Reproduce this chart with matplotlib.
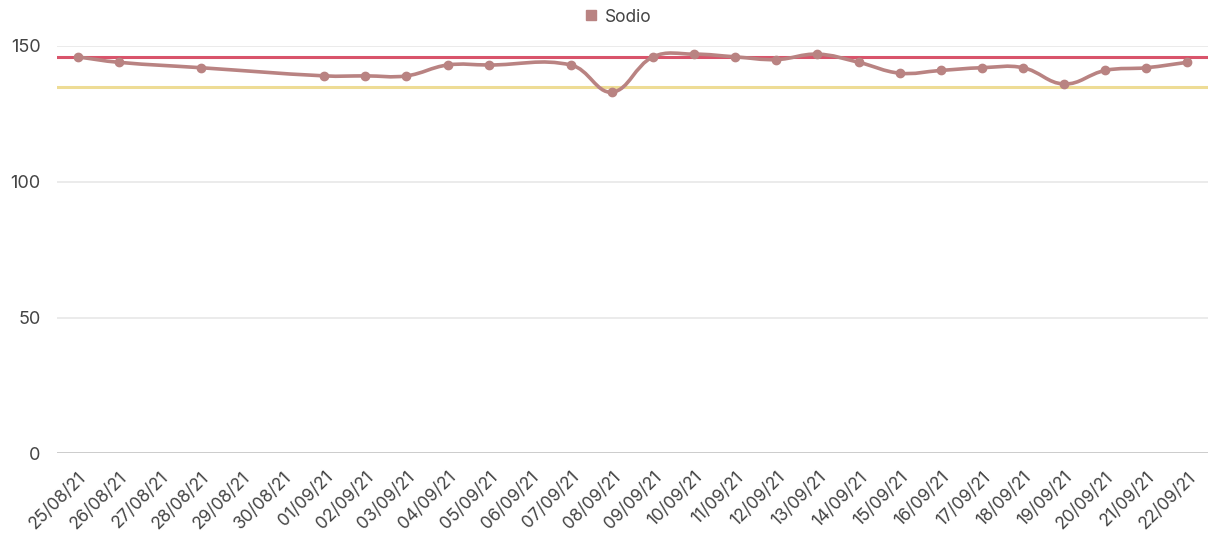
import numpy as np
import matplotlib
matplotlib.use("Agg")
import matplotlib.pyplot as plt
from matplotlib.path import Path
from matplotlib.patches import PathPatch
from matplotlib.lines import Line2D

plt.rcParams['font.family'] = ['Inter', 'DejaVu Sans']

# Dates on the category axis
dates = ["25/08/21", "26/08/21", "27/08/21", "28/08/21", "29/08/21", "30/08/21",
         "01/09/21", "02/09/21", "03/09/21", "04/09/21", "05/09/21", "06/09/21",
         "07/09/21", "08/09/21", "09/09/21", "10/09/21", "11/09/21", "12/09/21",
         "13/09/21", "14/09/21", "15/09/21", "16/09/21", "17/09/21", "18/09/21",
         "19/09/21", "20/09/21", "21/09/21", "22/09/21"]

# Sodium readings (None = no measurement that day)
sodio = [146, 144, None, 142, None, None,
         139, 139, 139, 143, 143, None,
         143, 133, 146, 147, 146, 145,
         147, 144, 140, 141, 142, 142,
         136, 141, 142, 144]

upper_limit = 146
lower_limit = 135
y_ticks = [0, 50, 100, 150]

line_color = "#b98382"
upper_color = "#d9546b"
lower_color = "#eedc95"

W, H = 1212, 541
fig = plt.figure(figsize=(W / 100, H / 100), dpi=100)
left, right, top, bottom = 57, 1208, 46, 453.3
ax = fig.add_axes([left / W, 1 - bottom / H, (right - left) / W, (bottom - top) / H])

n = len(dates)
ax.set_xlim(-0.5, n - 0.5)
ax.set_ylim(0, 150)

# Horizontal grid
for t in y_ticks:
    ax.axhline(t, color="#e8e8e8" if t else "#c4c4c4", lw=1.2, zorder=0)

# Reference limits
ax.axhline(upper_limit, color=upper_color, lw=2.2, zorder=1)
ax.axhline(lower_limit, color=lower_color, lw=2.2, zorder=1)

# Smooth curve through available points (bezier with tension 0.4, gaps spanned)
xs = np.array([i for i, v in enumerate(sodio) if v is not None], dtype=float)
ys = np.array([v for v in sodio if v is not None], dtype=float)
pix = ax.transData.transform(np.column_stack([xs, ys]))
tension = 0.4
cps = []
for i in range(len(pix)):
    cur = pix[i]
    prev = pix[i - 1] if i > 0 else cur
    nxt = pix[i + 1] if i < len(pix) - 1 else cur
    d01 = np.hypot(*(cur - prev))
    d12 = np.hypot(*(nxt - cur))
    tot = d01 + d12
    s01 = d01 / tot if tot else 0
    s12 = d12 / tot if tot else 0
    c_in = cur - tension * s01 * (nxt - prev)
    c_out = cur + tension * s12 * (nxt - prev)
    cps.append((c_in, c_out))
verts = [pix[0]]
codes = [Path.MOVETO]
for i in range(1, len(pix)):
    verts += [cps[i - 1][1], cps[i][0], pix[i]]
    codes += [Path.CURVE4] * 3
inv = ax.transData.inverted()
verts = inv.transform(np.array(verts))
ax.add_patch(PathPatch(Path(verts, codes), fill=False, edgecolor=line_color,
                       lw=2.6, zorder=3, capstyle='round', joinstyle='round'))
ax.plot(xs, ys, 'o', color=line_color, ms=6, zorder=4)

# Axes styling
for s in ax.spines.values():
    s.set_visible(False)
ax.set_yticks(y_ticks)
ax.set_yticklabels([str(t) for t in y_ticks], fontsize=13, color="#444444")
ax.set_xticks(range(n))
ax.set_xticklabels(dates, rotation=45, ha='right', rotation_mode='anchor',
                   fontsize=12.5, color="#444444")
ax.tick_params(axis='y', length=0, pad=12)
ax.tick_params(axis='x', length=0, pad=11)

handle = Line2D([], [], marker='s', ls='', color=line_color, ms=7)
fig.legend([handle], ["Sodio"], loc='center', bbox_to_anchor=(617 / W, 1 - 17 / H),
           frameon=False, fontsize=12.5, handletextpad=0.3, handlelength=1.0,
           labelcolor="#444444")

fig.savefig("out.png", dpi=100)
